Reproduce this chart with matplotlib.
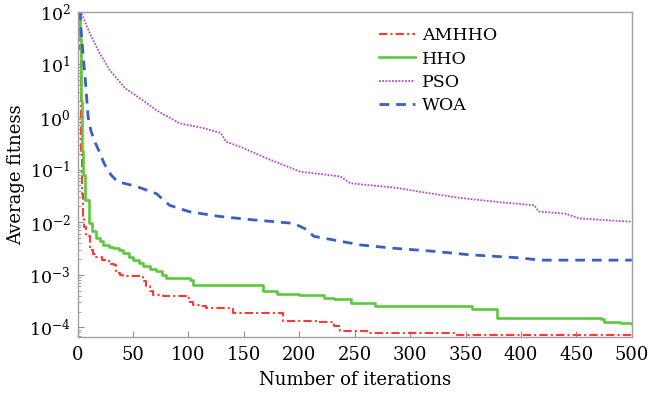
import matplotlib
matplotlib.use("Agg")
import matplotlib.pyplot as plt
from matplotlib.ticker import LogLocator, FixedLocator, NullFormatter

plt.rcParams['font.family'] = ['DejaVu Serif']
plt.rcParams['mathtext.fontset'] = 'dejavuserif'

# ---- data ----
amhho_iter = [1, 2, 3, 4, 5, 6, 8, 11, 14, 17, 22, 26, 30, 33, 35, 38, 41, 56, 59, 62, 65, 68,
              77, 98, 101, 104, 110, 116, 137, 140, 180, 185, 216, 231, 237, 252, 261, 342, 500]
amhho_val = [100, 20, 0.23, 0.035, 0.013, 0.008, 0.0054, 0.0030, 0.0025, 0.0022, 0.0019, 0.0018,
             0.0016, 0.00155, 0.0011, 0.0010, 0.00093, 0.00089, 0.00075, 0.0006, 0.00050, 0.00042,
             0.00039, 0.00036, 0.00031, 0.00027, 0.00025, 0.00023, 0.000224, 0.00019, 0.00019,
             0.000132, 0.000126, 0.000105, 0.000085, 0.000085, 0.000079, 0.000071, 0.000070]

hho_iter = [1, 2, 3, 4, 5, 7, 10, 13, 17, 20, 23, 28, 32, 37, 41, 46, 50, 55, 59, 65, 71, 76,
            80, 101, 104, 155, 167, 180, 200, 222, 231, 247, 268, 351, 356, 378, 472, 475, 489, 500]
hho_val = [100, 30, 2.0, 0.23, 0.08, 0.027, 0.0095, 0.0068, 0.0050, 0.0043, 0.0037, 0.0034,
           0.0032, 0.0029, 0.0026, 0.0022, 0.0019, 0.0017, 0.00145, 0.0013, 0.00117, 0.0010,
           0.00087, 0.00081, 0.00065, 0.00065, 0.00049, 0.00044, 0.00041, 0.00036, 0.00034,
           0.00029, 0.00026, 0.00026, 0.00022, 0.000151, 0.000145, 0.000126, 0.000123, 0.000117]

pso_iter = [1, 4, 11, 20, 29, 43, 56, 71, 92, 113, 129, 134, 149, 170, 201, 220, 237, 246, 288,
            309, 327, 345, 381, 412, 416, 440, 453, 500]
pso_val = [100, 89, 39, 16.2, 7.8, 3.5, 2.3, 1.35, 0.76, 0.62, 0.50, 0.34, 0.26, 0.166, 0.091,
           0.082, 0.074, 0.055, 0.045, 0.038, 0.033, 0.029, 0.024, 0.021, 0.016, 0.0145, 0.0118,
           0.0102]

woa_iter = [1, 2, 3, 5, 7, 9.5, 12, 15, 20, 24, 30, 36, 53, 71, 83, 101, 128, 156, 195, 207,
            213, 255, 285, 321, 354, 399, 417, 500]
woa_val = [100, 100, 50, 15, 5.0, 1.0, 0.55, 0.36, 0.21, 0.13, 0.08, 0.059, 0.048, 0.035, 0.021,
           0.0158, 0.0129, 0.0112, 0.0095, 0.0072, 0.0054, 0.0037, 0.0032, 0.0028, 0.0024, 0.0021,
           0.0019, 0.0019]

x_ticks = [0, 50, 100, 150, 200, 250, 300, 350, 400, 450, 500]
y_ticks = [1e-4, 1e-3, 1e-2, 1e-1, 1e0, 1e1, 1e2]
y_ticklabels = [r'$10^{-4}$', r'$10^{-3}$', r'$10^{-2}$', r'$10^{-1}$', r'$10^{0}$', r'$10^{1}$', r'$10^{2}$']

# ---- figure ----
fig = plt.figure(figsize=(6.63, 3.95), dpi=100)
ax = fig.add_axes([0.117, 0.148, 0.836, 0.822])

ax.plot(amhho_iter, amhho_val, drawstyle='steps-post', color='#ff3b30', lw=1.5,
        linestyle=(0, (4, 1.5, 1, 1.5)), label='AMHHO')
ax.plot(hho_iter, hho_val, drawstyle='steps-post', color='#5cc83c', lw=1.9,
        linestyle='-', label='HHO')
ax.plot(pso_iter, pso_val, color='#b54cc8', lw=1.3, linestyle=(0, (1, 0.8)), label='PSO')
ax.plot(woa_iter, woa_val, color='#3a5ec9', lw=2.0, linestyle=(0, (3.5, 2.5)), label='WOA')

ax.set_yscale('log')
ax.set_xlim(0, 500)
ax.set_ylim(6.7e-5, 100)
ax.xaxis.set_major_locator(FixedLocator(x_ticks))
ax.set_xticklabels([str(t) for t in x_ticks])
ax.yaxis.set_major_locator(FixedLocator(y_ticks))
ax.set_yticklabels(y_ticklabels)
ax.yaxis.set_minor_locator(LogLocator(base=10, subs=range(2, 10), numticks=20))
ax.yaxis.set_minor_formatter(NullFormatter())

for s in ax.spines.values():
    s.set_color('#a0a0a0')
    s.set_linewidth(1.0)
ax.tick_params(axis='both', which='both', direction='in', color='#909090',
               labelcolor='black')
ax.tick_params(axis='x', which='major', length=4, pad=7, labelsize=13)
ax.tick_params(axis='y', which='major', length=4, pad=5, labelsize=12.5)
ax.tick_params(axis='y', which='minor', length=2)
ax.tick_params(top=False, right=False)

ax.set_xlabel('Number of iterations', fontsize=13, labelpad=5)
ax.set_ylabel('Average fitness', fontsize=13, labelpad=3)

leg = ax.legend(loc='upper left', bbox_to_anchor=(0.515, 1.0), frameon=False, fontsize=12.5,
                handlelength=2.1, handletextpad=0.4, labelspacing=0.35)

fig.savefig('out.png', dpi=100)
